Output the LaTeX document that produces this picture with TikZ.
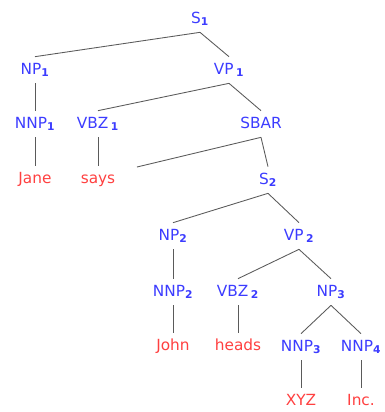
\documentclass[tikz,border=0pt]{standalone}
\usepackage{fontspec}
\setmainfont{DejaVu Sans}
\usetikzlibrary{positioning}

\definecolor{catblue}{RGB}{60,60,255}
\definecolor{wordred}{RGB}{255,64,64}
\definecolor{edgegray}{RGB}{90,90,90}

\tikzset{
  tnode/.style={inner xsep=1pt,inner ysep=4.3pt,text height=8.5pt,text depth=2.5pt,font=\fontsize{11.5}{13}\selectfont},
  cat/.style={tnode,text=catblue},
  word/.style={tnode,text=wordred},
  edge/.style={draw=edgegray,line width=0.65pt}
}

\newcommand{\sub}[1]{\textsubscript{\bfseries #1}}

\begin{document}
\begin{tikzpicture}[x=0.75pt,y=-0.75pt]
\useasboundingbox (0,0) rectangle (385,412);

% categories
\node[cat] (s1)   at (200,19)  {S\sub{1}};
\node[cat] (np1)  at (35,70)   {NP\sub{1}};
\node[cat] (vp1)  at (229,70)  {VP\,\sub{1}};
\node[cat] (nnp1) at (35,124)  {NNP\sub{1}};
\node[cat] (vbz1) at (98,124)  {VBZ\,\sub{1}};
\node[cat] (sbar) at (261,124) {SBAR};
\node[cat] (s2)   at (268,180) {S\sub{2}};
\node[cat] (np2)  at (173,236) {NP\sub{2}};
\node[cat] (vp2)  at (299,236) {VP\,\sub{2}};
\node[cat] (nnp2) at (173,292) {NNP\sub{2}};
\node[cat] (vbz2) at (238,292) {VBZ\,\sub{2}};
\node[cat] (np3)  at (331,292) {NP\sub{3}};
\node[cat] (nnp3) at (301,347) {NNP\sub{3}};
\node[cat] (nnp4) at (361,347) {NNP\sub{4}};

% words
\node[word] (jane)  at (35,179)  {Jane};
\node[word] (says)  at (98,179)  {says};
\node[word] (john)  at (173,346) {John};
\node[word] (heads) at (238,346) {heads};
\node[word] (xyz)   at (301,401) {XYZ};
\node[word] (inc)   at (361,401) {Inc.};

\coordinate (sbarend) at (137,167);

% edges
\draw[edge] (s1.south) -- (np1.north);
\draw[edge] (s1.south) -- (vp1.north);
\draw[edge] (np1.south) -- (nnp1.north);
\draw[edge] (vp1.south) -- (vbz1.north);
\draw[edge] (vp1.south) -- (sbar.north);
\draw[edge] (nnp1.south) -- (jane.north);
\draw[edge] (vbz1.south) -- (says.north);
\draw[edge] (sbar.south) -- (sbarend);
\draw[edge] (sbar.south) -- (s2.north);
\draw[edge] (s2.south) -- (np2.north);
\draw[edge] (s2.south) -- (vp2.north);
\draw[edge] (np2.south) -- (nnp2.north);
\draw[edge] (vp2.south) -- (vbz2.north);
\draw[edge] (vp2.south) -- (np3.north);
\draw[edge] (nnp2.south) -- (john.north);
\draw[edge] (vbz2.south) -- (heads.north);
\draw[edge] (np3.south) -- (nnp3.north);
\draw[edge] (np3.south) -- (nnp4.north);
\draw[edge] (nnp3.south) -- (xyz.north);
\draw[edge] (nnp4.south) -- (inc.north);
\end{tikzpicture}
\end{document}
